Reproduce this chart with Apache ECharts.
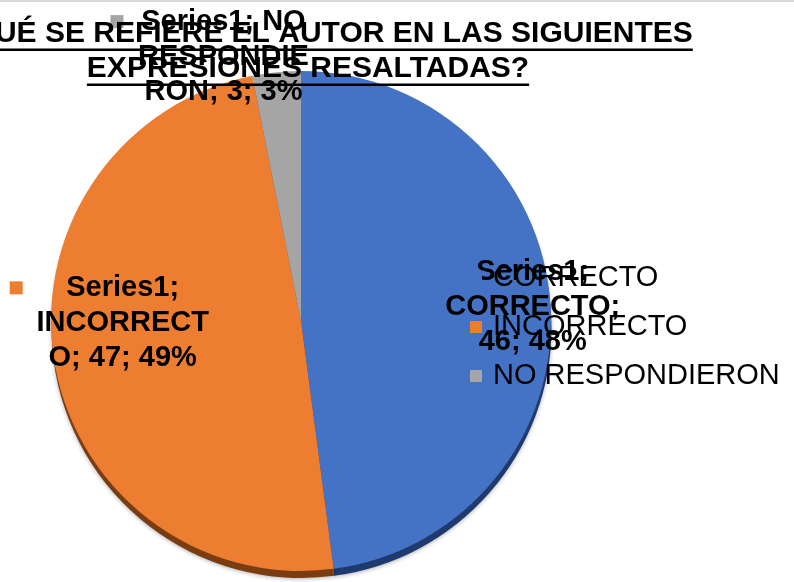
<!DOCTYPE html>
<html>
<head>
<meta charset="utf-8">
<script src="https://cdn.jsdelivr.net/npm/echarts@6/dist/echarts.min.js"></script>
<style>
  html, body { margin: 0; padding: 0; background: #fff; }
  #chart { width: 794px; height: 582px; }
</style>
</head>
<body>
<div id="chart"></div>
<script>
// ---- data ----
const titleLines = ['¿A QUÉ SE REFIERE EL AUTOR EN LAS SIGUIENTES', 'EXPRESIONES RESALTADAS?'];
const seriesName = 'Series1';
const categories = ['CORRECTO', 'INCORRECTO', 'NO RESPONDIERON'];
const values = [46, 47, 3];

// ---- style ----
const colors = ['#4472C4', '#ED7D31', '#A5A5A5'];
const sideColors = ['#1F3A6E', '#7A3D12', '#555555'];
const FONT = '"Liberation Sans", Arial, sans-serif';
const labelFontSize = 29;
const labelWrapWidth = 182;
const labelOffsets = [[93, -6], [-63, -19], [-76, -137]];
const titleCenterX = 308;

const cnv = document.createElement('canvas').getContext('2d');
function measure(text, font) { cnv.font = font; return cnv.measureText(text).width; }

function wrap(text, font, maxW) {
  const words = text.split(' ');
  const lines = [];
  let line = '';
  for (const w of words) {
    const cand = line ? line + ' ' + w : w;
    if (measure(cand, font) <= maxW) { line = cand; continue; }
    if (line) { lines.push(line); line = ''; }
    if (measure(w, font) <= maxW) { line = w; continue; }
    let part = '';
    for (const ch of w) {
      if (measure(part + ch, font) <= maxW) part += ch;
      else { lines.push(part); part = ch; }
    }
    line = part;
  }
  if (line) lines.push(line);
  return lines;
}

const labelFont = 'bold ' + labelFontSize + 'px ' + FONT;
const rich = {
  e: { width: 13, height: 13 },
  g: { width: 9 },
  c: { width: labelWrapWidth, align: 'center', fontSize: labelFontSize, fontWeight: 'bold',
       fontFamily: FONT, color: '#000', lineHeight: 35 }
};
colors.forEach((c, i) => { rich['k' + i] = { width: 13, height: 13, backgroundColor: c }; });

const total = values.reduce((a, b) => a + b, 0);
const pieData = categories.map((name, i) => ({
  name: name,
  value: values[i],
  itemStyle: { color: colors[i] },
  label: { offset: labelOffsets[i] }
}));
const sideData = categories.map((name, i) => ({
  name: name,
  value: values[i],
  itemStyle: { color: sideColors[i] }
}));

// title underline geometry (measured)
const titleFont = 'bold 30px ' + FONT;
const titleTop = 16.5, titleLH = 35;
const underlines = titleLines.map((t, i) => {
  const w = measure(t, titleFont);
  return {
    type: 'rect',
    shape: { x: titleCenterX - w / 2, y: titleTop + titleLH * (i + 1) - 3, width: w, height: 2.5 },
    style: { fill: '#000' },
    silent: true,
    z: 10
  };
});
underlines.push({
  type: 'rect', shape: { x: 0, y: 0, width: 794, height: 2 }, style: { fill: '#d9d9d9' }, silent: true
});

const chart = echarts.init(document.getElementById('chart'), null, { renderer: 'canvas' });
chart.setOption({
  animation: false,
  backgroundColor: '#fff',
  title: {
    text: titleLines.join('\n'),
    left: titleCenterX,
    top: titleTop,
    padding: 0,
    textAlign: 'center',
    textStyle: { fontFamily: FONT, fontSize: 30, fontWeight: 'bold', color: '#000', lineHeight: titleLH }
  },
  legend: {
    orient: 'vertical',
    left: 470,
    top: 263,
    padding: 0,
    itemWidth: 12,
    itemHeight: 12,
    itemGap: 19,
    icon: 'rect',
    data: categories,
    selectedMode: false,
    textStyle: { fontFamily: FONT, fontSize: 29, color: '#000', lineHeight: 30, padding: [0, 0, 0, 6] }
  },
  graphic: underlines,
  series: [{
    type: 'pie',
    name: seriesName,
    z: 3,
    center: [301, 321],
    radius: [0, 250],
    startAngle: 90,
    clockwise: true,
    selectedMode: false,
    avoidLabelOverlap: false,
    emphasis: { disabled: true },
    itemStyle: { borderWidth: 0 },
    label: {
      show: true,
      position: 'inside',
      align: 'center',
      verticalAlign: 'middle',
      rich: rich,
      formatter: function (p) {
        const pct = Math.round(p.value / total * 100);
        const lines = wrap(seriesName + '; ' + p.name + '; ' + p.value + '; ' + pct + '%', labelFont, labelWrapWidth);
        return lines.map((l, j) => (j === 0 ? '{k' + p.dataIndex + '|}' : '{e|}') + '{g|}{c|' + l + '}').join('\n');
      }
    },
    labelLine: { show: false },
    data: pieData
  }, {
    type: 'pie',
    name: seriesName + ' depth',
    z: 1,
    silent: true,
    center: [301.5, 328],
    radius: [0, 250],
    startAngle: 90,
    clockwise: true,
    selectedMode: false,
    emphasis: { disabled: true },
    itemStyle: { borderWidth: 0, shadowBlur: 4, shadowColor: 'rgba(0,0,0,0.3)', shadowOffsetY: 1 },
    label: { show: false },
    labelLine: { show: false },
    tooltip: { show: false },
    data: sideData
  }]
});
</script>
</body>
</html>
